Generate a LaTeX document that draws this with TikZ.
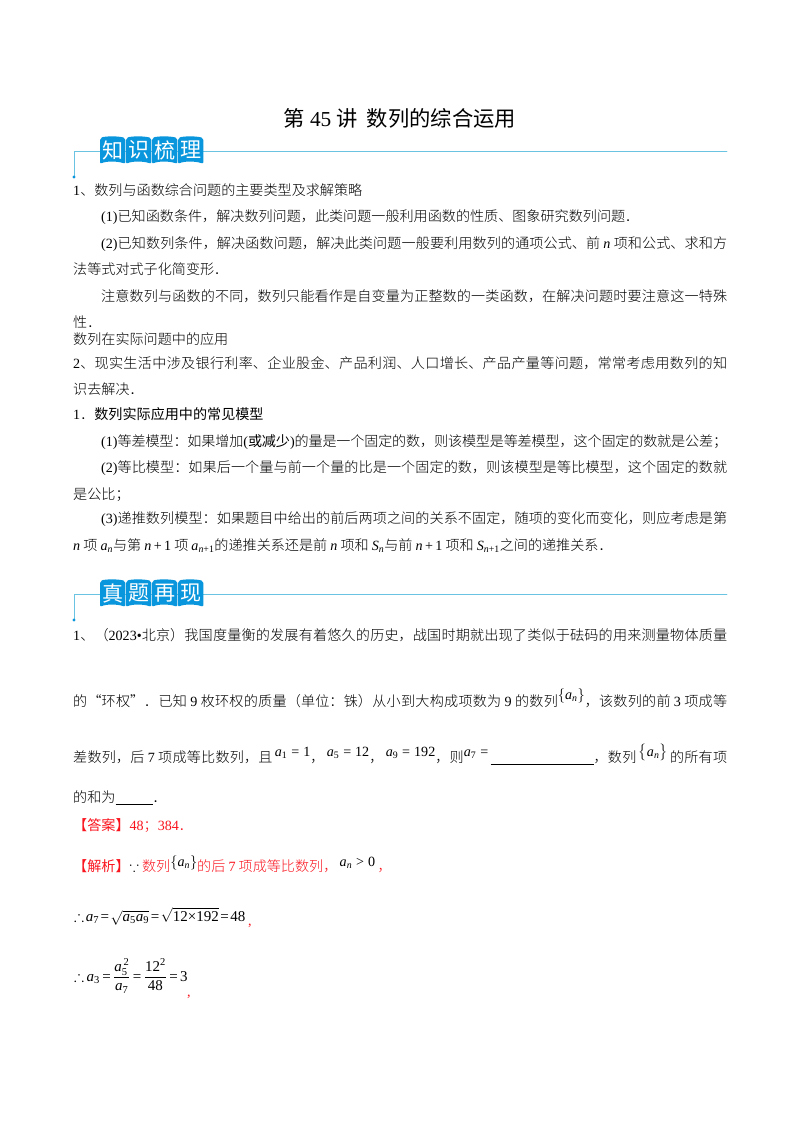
\documentclass[tikz,border=0pt]{standalone}
\usepackage{amsmath,amssymb}
\usepackage{fontspec}
\setmainfont{Noto Sans CJK SC Light}
\setmathrm{Liberation Serif}
\newfontfamily\lat{Liberation Serif}
\newfontfamily\heavy{Noto Sans CJK SC}
\XeTeXlinebreaklocale "zh"
\XeTeXlinebreakskip=0pt plus 2pt minus 0.3pt
\thickmuskip=2mu
\definecolor{tabblue}{RGB}{10,150,220}
\definecolor{ruleblue}{RGB}{105,195,225}
\definecolor{ansred}{RGB}{250,20,30}
\newcommand{\la}[1]{{\lat #1}}
\newcommand{\vi}[1]{\text{\lat\itshape #1}}
\newcommand{\di}[1]{\text{\lat #1}}
\newcommand{\eq}{\mathrel{\text{\lat =}}}
\newcommand{\nn}{\vi{n}}
\newcommand{\just}[2]{\parbox[t]{#1pt}{\parfillskip=0pt\noindent #2}}
\newcommand{\blank}[1]{\rule[-2.5pt]{#1pt}{0.8pt}}
\tikzset{
	body/.style={anchor=base west, inner sep=0pt, font=\fontsize{14.1}{17}\selectfont},
	ans/.style={body, text=ansred},
	formula/.style={anchor=base west, inner sep=0pt, font=\fontsize{15}{17}\selectfont},
	tabchar/.style={inner sep=0pt, text=white, font=\heavy\fontsize{21}{21}\selectfont},
}
\begin{document}
\begin{tikzpicture}[x=1pt, y=-1pt, line join=round, line cap=round]
	\useasboundingbox (0,0) rectangle (800,1132);
	\fill[white] (0,0) rectangle (800,1132);
	\node[inner sep=0pt, font=\heavy\fontsize{21.3}{21}\selectfont] (title) at (400,118) {第 {\lat 45} 讲\ \ 数列的综合运用};
	% section heads
	\foreach \y/\a/\b/\c/\d in {151/知/识/梳/理, 594/真/题/再/现}{
		\draw[ruleblue, line width=0.9pt] (74,\y+26) -- (74,\y) -- (727,\y);
		\fill[tabblue] (74,\y+26) circle (1.6pt);
		\foreach \t [count=\i from 0] in {\a,\b,\c,\d}{
			\fill[tabblue, rounded corners=2pt] (100+26*\i,\y-13) .. controls (106+26*\i,\y-15) and (118+26*\i,\y-15) .. (125.4+26*\i,\y-13) -- (125.4+26*\i,\y+13) .. controls (118+26*\i,\y+10) and (106+26*\i,\y+10) .. (100+26*\i,\y+13) -- cycle;
			\node[tabchar] (tab\y-\i) at (112.7+26*\i,\y-1) {\t};
		}
	}
	% first block
	\node[body] (a1) at (73,195) {\la{1}、数列与函数综合问题的主要类型及求解策略};
	\node[body] (a2) at (101,221) {\la{(1)}已知函数条件，解决数列问题，此类问题一般利用函数的性质、图象研究数列问题．};
	\node[body] (a3) at (101,248) {\just{626}{\la{(2)}已知数列条件，解决函数问题，解决此类问题一般要利用数列的通项公式、前 $\nn$ 项和公式、求和方}};
	\node[body] (a4) at (73,274) {法等式对式子化简变形．};
	\node[body] (a5) at (101,301) {\just{626}{注意数列与函数的不同，数列只能看作是自变量为正整数的一类函数，在解决问题时要注意这一特殊}};
	\node[body] (a6) at (73,327) {性．};
	\node[body] (a7) at (73,344) {数列在实际问题中的应用};
	\node[body] (a8) at (73,368) {\just{654}{\la{2}、现实生活中涉及银行利率、企业股金、产品利润、人口增长、产品产量等问题，常常考虑用数列的知}};
	\node[body] (a9) at (73,394) {识去解决．};
	\node[body] (a10) at (73,419) {\la{1}．{\heavy 数列实际应用中的常见模型}};
	\node[body] (a11) at (101,446) {\just{626}{\la{(1)}等差模型：如果增加{\heavy\la{(}或减少\la{)}}的量是一个固定的数，则该模型是等差模型，这个固定的数就是公差；}};
	\node[body] (a12) at (101,472) {\just{626}{\la{(2)}等比模型：如果后一个量与前一个量的比是一个固定的数，则该模型是等比模型，这个固定的数就}};
	\node[body] (a13) at (73,499) {是公比；};
	\node[body] (a14) at (101,523) {\just{626}{\la{(3)}递推数列模型：如果题目中给出的前后两项之间的关系不固定，随项的变化而变化，则应考虑是第}};
	\node[body] (a15) at (73,550) {$\nn$ 项 $\vi{a}_{\nn}$与第 $\nn$\,\la{+}\,\la{1} 项 $\vi{a}_{\nn\di{+}\di{1}}$的递推关系还是前 $\nn$ 项和 $\vi{S}_{\nn}$与前 $\nn$\,\la{+}\,\la{1} 项和 $\vi{S}_{\nn\di{+}\di{1}}$之间的递推关系．};
	% question
	\node[body] (b1) at (73,640) {\just{654}{\la{1}、（\la{2023•}北京）我国度量衡的发展有着悠久的历史，战国时期就出现了类似于砝码的用来测量物体质量}};
	\node[body] (b2) at (73,706) {\just{654}{的“环权”．已知 \la{9} 枚环权的质量（单位：铢）从小到大构成项数为 \la{9} 的数列\raisebox{7pt}{$\{\vi{a}_{\nn}\}$}，该数列的前 \la{3} 项成等}};
	\node[body] (b3) at (73,762) {\just{654}{\thickmuskip=5mu 差数列，后 \la{7} 项成等比数列，且\raisebox{6pt}{\,$\vi{a}_{\di{1}}\eq\di{1}$}，\raisebox{6pt}{\,$\vi{a}_{\di{5}}\eq\di{12}$}，\raisebox{6pt}{\,$\vi{a}_{\di{9}}\eq\di{192}$}，则\raisebox{6pt}{$\vi{a}_{\di{7}}\eq$}\,\blank{103}，数列\raisebox{6pt}{\,$\bigl\{\vi{a}_{\nn}\bigr\}$\,}的所有项}};
	\node[body] (b4) at (73,802) {的和为\blank{37}．};
	\node[ans] (c1) at (73,830) {{\heavy 【答案】}\la{48}；\la{384}．};
	\node[ans] (c2) at (73,871) {\thickmuskip=5mu {\heavy 【解析】}\textcolor{black}{$\because$} 数列\raisebox{5pt}{\textcolor{black}{$\{\vi{a}_{\nn}\}$}}的后 \la{7} 项成等比数列，\raisebox{5pt}{\,\textcolor{black}{$\vi{a}_{\nn}\mathrel{\di{>}}\di{0}$}}\,，};
	\node[formula] (c3) at (74,921) {$\therefore \vi{a}_{\di{7}}\eq\sqrt{\vi{a}_{\di{5}}\vi{a}_{\di{9}}}\eq\sqrt{\di{12}\text{\lat ×}\di{192}}\eq\di{48}$};
	\node[ans, anchor=base] (c3c) at (250,925) {\la{,}};
	\node[formula] (c4) at (74,981) {\thickmuskip=3mu $\therefore \vi{a}_{\di{3}}\eq\dfrac{\vi{a}_{\di{5}}^{\,\di{2}}}{\vi{a}_{\di{7}}}\eq\dfrac{\di{12}^{\di{2}}}{\di{48}}\eq\di{3}$};
	\node[ans, anchor=base] (c4c) at (189,996) {\la{,}};
\end{tikzpicture}
\end{document}
